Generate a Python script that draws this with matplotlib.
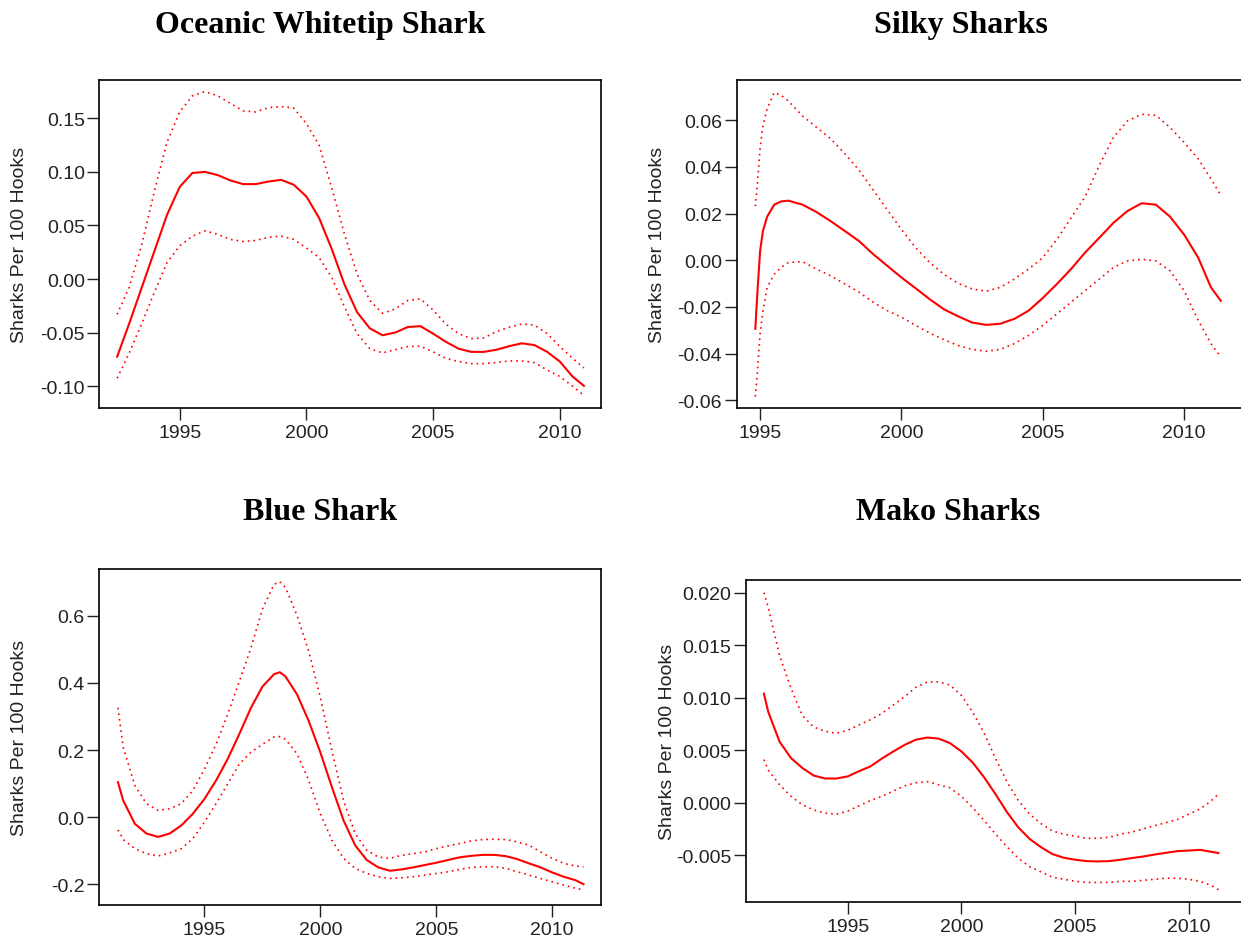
import matplotlib
matplotlib.use("Agg")
import matplotlib.pyplot as plt
from matplotlib.ticker import FormatStrFormatter

plt.rcParams['font.family'] = ['Liberation Sans', 'DejaVu Sans']
plt.rcParams['axes.unicode_minus'] = False

# Oceanic Whitetip Shark
years1 = [1992.53, 1993.0, 1993.5, 1994.0, 1994.5, 1995.0, 1995.5, 1996.0, 1996.5, 1997.0,
          1997.5, 1998.0, 1998.5, 1999.0, 1999.5, 2000.0, 2000.5, 2001.0, 2001.5, 2002.0,
          2002.5, 2003.0, 2003.5, 2004.0, 2004.5, 2005.0, 2005.5, 2006.0, 2006.5, 2007.0,
          2007.5, 2008.0, 2008.5, 2009.0, 2009.5, 2010.0, 2010.5, 2010.95]
mean1 = [-0.0725, -0.042, -0.008, 0.026, 0.060, 0.086, 0.099, 0.100, 0.097, 0.092,
         0.0886, 0.0886, 0.091, 0.0926, 0.088, 0.077, 0.057, 0.028, -0.005, -0.031,
         -0.046, -0.0525, -0.050, -0.0448, -0.044, -0.051, -0.0586, -0.065, -0.068, -0.068,
         -0.066, -0.0627, -0.060, -0.0617, -0.068, -0.077, -0.091, -0.0997]
upper1 = [-0.033, -0.008, 0.032, 0.082, 0.128, 0.156, 0.171, 0.175, 0.171, 0.164,
          0.157, 0.156, 0.160, 0.161, 0.1596, 0.145, 0.125, 0.085, 0.042, 0.0046,
          -0.020, -0.032, -0.028, -0.020, -0.0185, -0.029, -0.042, -0.051, -0.0556, -0.055,
          -0.049, -0.045, -0.042, -0.043, -0.051, -0.063, -0.074, -0.083]
lower1 = [-0.0926, -0.0694, -0.0417, -0.0123, 0.0154, 0.031, 0.040, 0.045, 0.0417, 0.037,
          0.035, 0.036, 0.039, 0.040, 0.037, 0.029, 0.020, 0.0015, -0.026, -0.051,
          -0.065, -0.069, -0.066, -0.063, -0.0627, -0.068, -0.074, -0.077, -0.079, -0.079,
          -0.078, -0.0765, -0.0765, -0.078, -0.085, -0.091, -0.100, -0.1086]

# Silky Sharks
years2 = [1994.83, 1994.9, 1995.0, 1995.1, 1995.25, 1995.5, 1995.75, 1996.0, 1996.5, 1997.0,
          1997.5, 1998.0, 1998.5, 1999.0, 1999.5, 2000.0, 2000.5, 2001.0, 2001.5, 2002.0,
          2002.5, 2003.0, 2003.5, 2004.0, 2004.5, 2005.0, 2005.5, 2006.0, 2006.5, 2007.0,
          2007.5, 2008.0, 2008.5, 2009.0, 2009.5, 2010.0, 2010.5, 2010.95, 2011.3]
mean2 = [-0.0294, -0.0145, 0.004, 0.0125, 0.0187, 0.0238, 0.0252, 0.0255, 0.0238, 0.0206,
         0.0167, 0.0125, 0.0082, 0.0026, -0.0024, -0.0074, -0.012, -0.0167, -0.021, -0.024,
         -0.0267, -0.0277, -0.0272, -0.0251, -0.0216, -0.0162, -0.0102, -0.0038, 0.0033, 0.0096,
         0.016, 0.0211, 0.0244, 0.0238, 0.0187, 0.011, 0.0011, -0.0116, -0.0174]
upper2 = [0.0231, 0.0323, 0.0479, 0.0577, 0.065, 0.0718, 0.0706, 0.0682, 0.0618, 0.0569,
          0.052, 0.0456, 0.0386, 0.0301, 0.0216, 0.0132, 0.0054, -0.001, -0.006, -0.0099,
          -0.0123, -0.0133, -0.0116, -0.008, -0.0038, 0.0011, 0.0089, 0.0181, 0.0272, 0.0406,
          0.0526, 0.0597, 0.0625, 0.0621, 0.0569, 0.0505, 0.0434, 0.0349, 0.0278]
lower2 = [-0.0584, -0.0485, -0.0315, -0.0217, -0.0116, -0.006, -0.003, -0.001, -0.0006, -0.0038,
          -0.0067, -0.0102, -0.0137, -0.018, -0.0216, -0.0244, -0.0279, -0.0312, -0.034, -0.0365,
          -0.0382, -0.039, -0.0382, -0.0357, -0.0322, -0.0279, -0.023, -0.018, -0.013, -0.0081,
          -0.0031, -0.0003, 0.0004, -0.0003, -0.0045, -0.013, -0.0258, -0.0357, -0.0414]

# Blue Shark
years3 = [1991.27, 1991.5, 1992.0, 1992.5, 1993.0, 1993.5, 1994.0, 1994.5, 1995.0, 1995.5,
          1996.0, 1996.5, 1997.0, 1997.5, 1998.0, 1998.25, 1998.5, 1999.0, 1999.5, 2000.0,
          2000.5, 2001.0, 2001.5, 2002.0, 2002.5, 2003.0, 2003.5, 2004.0, 2004.5, 2005.0,
          2005.5, 2006.0, 2006.5, 2007.0, 2007.5, 2008.0, 2008.5, 2009.0, 2009.5, 2010.0,
          2010.5, 2011.0, 2011.35]
mean3 = [0.104, 0.049, -0.020, -0.049, -0.059, -0.049, -0.025, 0.010, 0.054, 0.109,
         0.173, 0.247, 0.325, 0.389, 0.426, 0.432, 0.419, 0.365, 0.286, 0.193,
         0.089, -0.010, -0.084, -0.128, -0.150, -0.160, -0.156, -0.150, -0.143, -0.136,
         -0.128, -0.120, -0.1156, -0.1126, -0.1126, -0.1165, -0.1254, -0.138, -0.150, -0.165,
         -0.178, -0.188, -0.200]
upper3 = [0.326, 0.207, 0.094, 0.040, 0.020, 0.025, 0.040, 0.079, 0.143, 0.217,
          0.306, 0.404, 0.503, 0.620, 0.694, 0.702, 0.684, 0.600, 0.494, 0.356,
          0.198, 0.049, -0.049, -0.099, -0.119, -0.123, -0.114, -0.109, -0.104, -0.094,
          -0.086, -0.079, -0.071, -0.067, -0.066, -0.067, -0.074, -0.084, -0.104, -0.123,
          -0.138, -0.146, -0.148]
lower3 = [-0.038, -0.067, -0.094, -0.109, -0.116, -0.107, -0.094, -0.064, -0.015, 0.040,
          0.099, 0.158, 0.193, 0.217, 0.239, 0.240, 0.232, 0.188, 0.109, 0.010,
          -0.069, -0.123, -0.153, -0.168, -0.178, -0.183, -0.181, -0.178, -0.173, -0.168,
          -0.163, -0.156, -0.150, -0.148, -0.148, -0.153, -0.163, -0.173, -0.183, -0.193,
          -0.203, -0.212, -0.217]

# Mako Sharks
years4 = [1991.31, 1991.5, 1992.0, 1992.5, 1993.0, 1993.5, 1994.0, 1994.5, 1995.0, 1995.5,
          1996.0, 1996.5, 1997.0, 1997.5, 1998.0, 1998.5, 1999.0, 1999.5, 2000.0, 2000.5,
          2001.0, 2001.5, 2002.0, 2002.5, 2003.0, 2003.5, 2004.0, 2004.5, 2005.0, 2005.5,
          2006.0, 2006.5, 2007.0, 2007.5, 2008.0, 2008.5, 2009.0, 2009.5, 2010.0, 2010.5,
          2011.0, 2011.3]
mean4 = [0.01038, 0.00865, 0.0058, 0.00425, 0.0033, 0.00258, 0.0023, 0.0023, 0.0025, 0.003,
         0.00346, 0.0042, 0.00487, 0.0055, 0.006, 0.0062, 0.0061, 0.00566, 0.00487, 0.0038,
         0.0024, 0.0008, -0.0009, -0.00236, -0.00346, -0.00425, -0.0049, -0.00525, -0.00544, -0.00557,
         -0.0056, -0.00557, -0.00544, -0.00528, -0.00513, -0.00494, -0.00478, -0.00462, -0.00456, -0.0045,
         -0.00469, -0.0048]
upper4 = [0.020, 0.0186, 0.0140, 0.0109, 0.0083, 0.0072, 0.0068, 0.0066, 0.0069, 0.0074,
          0.0079, 0.0085, 0.0093, 0.0101, 0.0110, 0.0115, 0.0115, 0.0112, 0.0102, 0.0086,
          0.0066, 0.0042, 0.0020, 0.0002, -0.0011, -0.0020, -0.0027, -0.0030, -0.0032, -0.0034,
          -0.0034, -0.0033, -0.0030, -0.0028, -0.0025, -0.0022, -0.0019, -0.0016, -0.0011, -0.0006,
          0.0002, 0.0008]
lower4 = [0.0041, 0.0031, 0.0017, 0.0006, -0.0002, -0.0007, -0.0010, -0.0011, -0.0008, -0.0003,
          0.0002, 0.0006, 0.0011, 0.0016, 0.0019, 0.0020, 0.0017, 0.0014, 0.0006, -0.0005,
          -0.0017, -0.0030, -0.0042, -0.0053, -0.0061, -0.0066, -0.0071, -0.0073, -0.0075, -0.0076,
          -0.0076, -0.0076, -0.0075, -0.0075, -0.0074, -0.0073, -0.0072, -0.0072, -0.0073, -0.0075,
          -0.0079, -0.0083]

titles = ["Oceanic Whitetip Shark", "Silky Sharks", "Blue Shark", "Mako Sharks"]
yticks1 = [-0.10, -0.05, 0.00, 0.05, 0.10, 0.15]
yticks2 = [-0.06, -0.04, -0.02, 0.00, 0.02, 0.04, 0.06]
yticks3 = [-0.2, 0.0, 0.2, 0.4, 0.6]
yticks4 = [-0.005, 0.000, 0.005, 0.010, 0.015, 0.020]
xticks = [1995, 2000, 2005, 2010]


def panel(fig, rect, years, mean, upper, lower, xlim, ylim, yticks, fmt, labx, title, tx, ty):
    ax = fig.add_axes(rect)
    ax.plot(years, upper, color="red", lw=1.2, ls=(0, (1, 2.4)))
    ax.plot(years, lower, color="red", lw=1.2, ls=(0, (1, 2.4)))
    ax.plot(years, mean, color="red", lw=1.5)
    ax.set_xlim(xlim)
    ax.set_ylim(ylim)
    ax.set_xticks(xticks)
    ax.set_yticks(yticks)
    ax.yaxis.set_major_formatter(FormatStrFormatter(fmt))
    ax.tick_params(direction="out", length=8.5, width=1.0, labelsize=14,
                   colors="#222222", pad=2)
    ax.tick_params(axis="x", pad=3)
    for s in ax.spines.values():
        s.set_linewidth(1.2)
    ax.set_ylabel("Sharks Per 100 Hooks", fontsize=14, color="#222222")
    ax.yaxis.set_label_coords(labx, 0.5)
    fig.text(tx, ty, title, ha="center", va="center", fontsize=23,
             fontweight="bold", family="Liberation Serif")
    return ax


def main():
    fig = plt.figure(figsize=(12.41, 9.45), dpi=100)
    panel(fig, [0.0801, 0.5672, 0.4045, 0.3471], years1, mean1, upper1, lower1,
          (1991.83, 2011.64), (-0.1204, 0.1858), yticks1, "%.2f", -0.143,
          titles[0], 320 / 1241, 1 - 25 / 945)
    panel(fig, [0.5936, 0.5672, 0.4104, 0.3471], years2, mean2, upper2, lower2,
          (1994.17, 2012.19), (-0.0633, 0.0772), yticks2, "%.2f", -0.139,
          titles[1], 961 / 1241, 1 - 25 / 945)
    panel(fig, [0.0801, 0.0413, 0.4045, 0.3556], years3, mean3, upper3, lower3,
          (1990.47, 2012.12), (-0.262, 0.740), yticks3, "%.1f", -0.1416,
          titles[2], 320 / 1241, 1 - 513 / 945)
    panel(fig, [0.6009, 0.0444, 0.4045, 0.3407], years4, mean4, upper4, lower4,
          (1990.51, 2012.59), (-0.00947, 0.0212), yticks4, "%.3f", -0.138,
          titles[3], 948 / 1241, 1 - 513 / 945)
    fig.savefig("out.png", dpi=100)


if __name__ == "__main__":
    main()
